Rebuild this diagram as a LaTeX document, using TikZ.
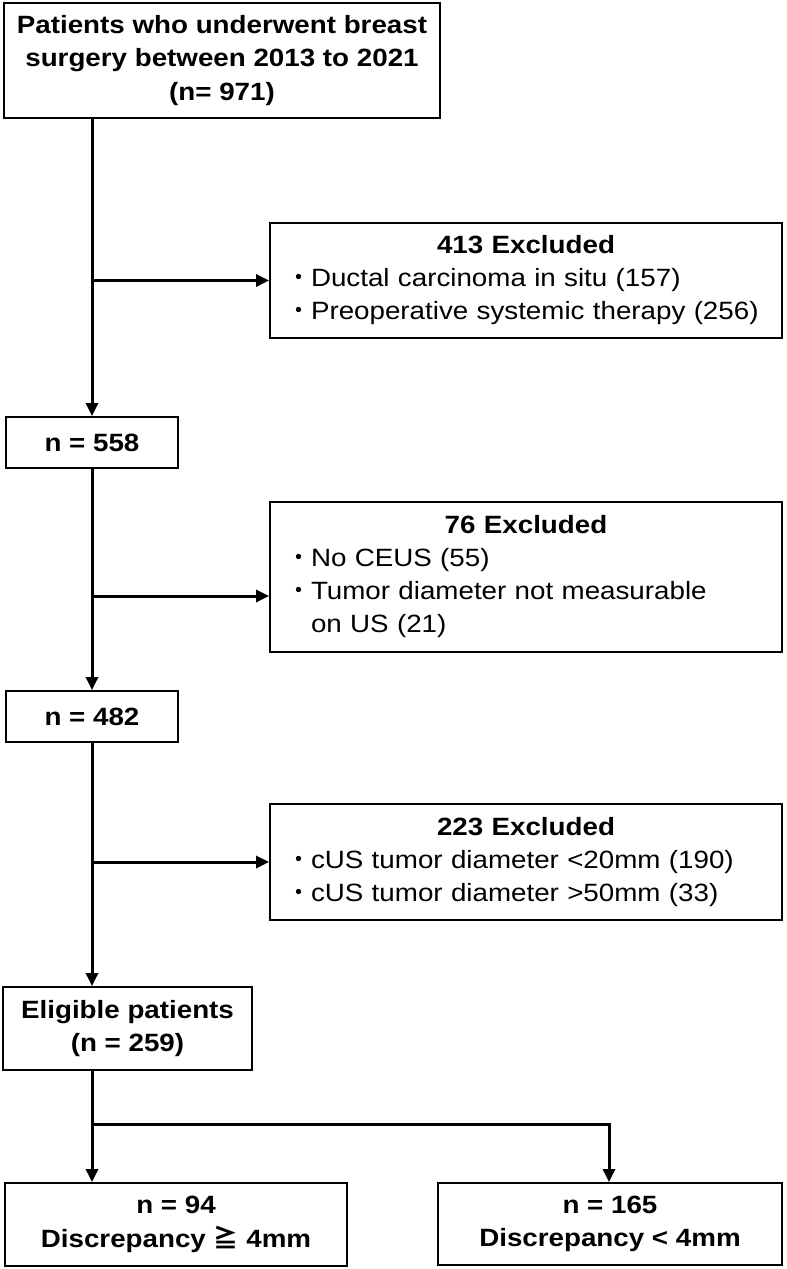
\documentclass[tikz,border=0pt]{standalone}
\usepackage{fontspec}
\setmainfont{Liberation Sans}[FakeStretch=1.11]
\newfontfamily\jpfont{Noto Sans CJK JP}
\usetikzlibrary{arrows.meta}
\newcommand\mybul{{\jpfont ・}}
\begin{document}
\begin{tikzpicture}[x=1pt,y=-1pt,
  box/.style={draw, line width=1.8pt, inner sep=0pt, align=center,
    font=\fontsize{25}{33.5}\selectfont\bfseries},
  exbox/.style={draw, line width=1.8pt, inner xsep=16pt, inner ysep=0pt,
    align=left, text width=480pt, font=\fontsize{25}{33}\selectfont},
  conn/.style={line width=3pt},
  arr/.style={conn, -{Triangle[length=13pt,width=12pt]}}]
\useasboundingbox (0,0) rectangle (787,1269);

\node[box, minimum width=436pt, minimum height=115pt] (top) at (222,60.5)
  {Patients who underwent breast\\surgery between 2013 to 2021\\(n= 971)};
\node[exbox, minimum height=115pt] (ex1) at (526,280.5)
  {\makebox[\linewidth]{\bfseries 413 Excluded}\\
   \mybul Ductal carcinoma in situ (157)\\
   \mybul Preoperative systemic therapy (256)};
\node[box, minimum width=172pt, minimum height=51pt] (n1) at (92,442.5) {n = 558};
\node[exbox, minimum height=150pt] (ex2) at (526,577)
  {\makebox[\linewidth]{\bfseries 76 Excluded}\\
   \mybul No CEUS (55)\\
   \mybul Tumor diameter not measurable\\
   \phantom{\mybul}on US (21)};
\node[box, minimum width=172pt, minimum height=51pt] (n2) at (92,716.5) {n = 482};
\node[exbox, minimum height=116pt] (ex3) at (526,862)
  {\makebox[\linewidth]{\bfseries 223 Excluded}\\
   \mybul cUS tumor diameter <20mm (190)\\
   \mybul cUS tumor diameter >50mm (33)};
\node[box, minimum width=249pt, minimum height=83pt] (el) at (127.5,1028.5)
  {Eligible patients\\(n = 259)};
\node[box, minimum width=342pt, minimum height=83pt] (b1) at (176,1224.5)
  {n = 94\\Discrepancy {\jpfont\bfseries ≧} 4mm};
\node[box, minimum width=344pt, minimum height=82pt] (b2) at (610,1224)
  {n = 165\\Discrepancy < 4mm};

\coordinate (a1) at (ex1.west);
\coordinate (a2) at ([yshift=-19pt]ex2.west);
\coordinate (a3) at (ex3.west);
\coordinate (sL) at (92,1124);
\coordinate (sR) at (609,1124);

\draw[arr] (top.south -| n1.north) -- (n1.north);
\draw[arr] (a1 -| n1.north) -- (a1);
\draw[arr] (n1.south) -- (n2.north);
\draw[arr] (a2 -| n1.north) -- (a2);
\draw[arr] (n2.south) -- (n2.south |- el.north);
\draw[arr] (a3 -| n2.south) -- (a3);
\draw[arr] (el.south -| sL) -- (sL |- b1.north);
\draw[arr] (sL) -- (sR) -- (sR |- b2.north);
\end{tikzpicture}
\end{document}
